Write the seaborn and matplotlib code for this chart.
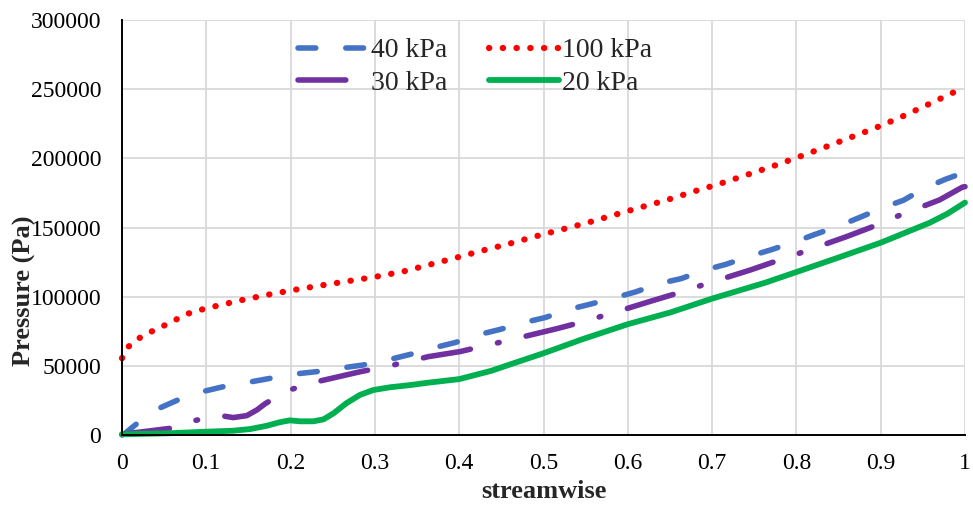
import matplotlib
matplotlib.use("Agg")
import matplotlib.pyplot as plt
import seaborn as sns
import pandas as pd
import numpy as np

# ---- data ----
x_100 = [0, 0.0075, 0.02, 0.034, 0.049, 0.064, 0.078, 0.094, 0.11, 0.141, 0.173, 0.205,
         0.237, 0.269, 0.301, 0.333, 0.364, 0.396, 0.428, 0.459, 0.490, 0.522, 0.553,
         0.584, 0.616, 0.647, 0.677, 0.709, 0.740, 0.771, 0.801, 0.832, 0.862, 0.893,
         0.923, 0.952, 0.982, 1.0]
y_100 = [55500, 63800, 69900, 74500, 78800, 83400, 87700, 90600, 93000, 97400, 101400,
         105000, 108200, 111300, 114400, 118100, 123000, 128100, 133400, 138200, 143500,
         148600, 153600, 159100, 164700, 170000, 175800, 181600, 187800, 194100, 200600,
         207600, 214600, 221800, 229500, 237700, 246400, 251500]

x_40 = [0, 0.0036, 0.019, 0.044, 0.068, 0.095, 0.12, 0.15, 0.176, 0.205, 0.231, 0.26,
        0.286, 0.315, 0.342, 0.371, 0.395, 0.425, 0.449, 0.477, 0.502, 0.531, 0.555,
        0.585, 0.609, 0.638, 0.663, 0.691, 0.716, 0.745, 0.769, 0.797, 0.822, 0.850,
        0.874, 0.902, 0.927, 0.952, 0.977, 1.0]
y_40 = [0, 1200, 8900, 19300, 25800, 31300, 34900, 38100, 41000, 44100, 45800, 48400,
        50600, 54200, 58300, 63200, 66800, 72800, 76400, 81300, 84900, 90900, 94500,
        99300, 103400, 109600, 113000, 119200, 123300, 129300, 133700, 139400, 145000,
        151000, 157000, 164200, 169700, 178400, 184900, 190000]

x_30 = [0, 0.057, 0.086, 0.115, 0.132, 0.148, 0.160, 0.170, 0.196, 0.226, 0.283, 0.313,
        0.343, 0.363, 0.401, 0.430, 0.461, 0.516, 0.546, 0.577, 0.632, 0.661, 0.691,
        0.745, 0.775, 0.805, 0.859, 0.888, 0.917, 0.970, 0.997, 1.0]
y_30 = [500, 4800, 10400, 14200, 12600, 14000, 18100, 22700, 32000, 37800, 45800, 49400,
        53550, 56600, 60300, 64400, 68800, 76900, 81700, 87300, 97600, 102900, 108900,
        119200, 125500, 131700, 143300, 150000, 157500, 170000, 179200, 179500]

x_20 = [0, 0.053, 0.0925, 0.132, 0.152, 0.172, 0.187, 0.199, 0.211, 0.227, 0.239, 0.251,
        0.266, 0.282, 0.298, 0.318, 0.342, 0.363, 0.4, 0.438, 0.473, 0.5, 0.546, 0.6,
        0.65, 0.7, 0.763, 0.8, 0.849, 0.9, 0.958, 0.979, 1.0]
y_20 = [500, 1200, 2200, 3100, 4300, 6700, 9200, 10600, 9900, 9900, 11300, 15700, 22900,
        28900, 32500, 34500, 36100, 37800, 40400, 46400, 53600, 59100, 69200, 80100,
        88500, 98600, 110100, 117800, 128100, 139000, 153400, 159900, 168000]

x_ticks = [0, 0.1, 0.2, 0.3, 0.4, 0.5, 0.6, 0.7, 0.8, 0.9, 1]
x_tick_labels = ["0", "0.1", "0.2", "0.3", "0.4", "0.5", "0.6", "0.7", "0.8", "0.9", "1"]
y_ticks = [0, 50000, 100000, 150000, 200000, 250000, 300000]

# ---- style ----
sns.set_style("white")
plt.rcParams["font.family"] = ["Liberation Serif", "DejaVu Serif"]

fig = plt.figure(figsize=(9.73, 5.08), dpi=100)
ax = fig.add_axes([122 / 973, 1 - 435 / 508, (965 - 122) / 973, (435 - 20) / 508])

series = [
    ("40 kPa", x_40, y_40, "#4472C4", (0, (3.2, 5.4)), 4.0),
    ("30 kPa", x_30, y_30, "#7030A0", (0, (8.6, 5.0, 0.3, 5.0)), 4.0),
    ("100 kPa", x_100, y_100, "#FF0000", (0, (0.05, 2.15)), 4.5),
    ("20 kPa", x_20, y_20, "#00B050", "-", 4.2),
]

for name, xs, ys, col, ls, lw in series:
    df = pd.DataFrame({"x": xs, "y": ys})
    sns.lineplot(data=df, x="x", y="y", ax=ax, color=col, linewidth=lw,
                 linestyle=ls, label=name, sort=False, estimator=None)

for ln in ax.get_lines():
    ln.set_dash_capstyle("round")
    ln.set_solid_capstyle("round")
    ln.set_solid_joinstyle("round")
    ln.set_dash_joinstyle("round")
    ln.set_clip_on(False)

ax.set_xlim(0, 1)
ax.set_ylim(0, 300000)
ax.set_xticks(x_ticks)
ax.set_xticklabels(x_tick_labels)
ax.set_yticks(y_ticks)
ax.set_yticklabels([str(v) for v in y_ticks])
ax.tick_params(axis="both", length=0, labelsize=17, colors="black")
ax.tick_params(axis="y", pad=15)
ax.tick_params(axis="x", pad=13)

ax.grid(True, color="#D9D9D9", linewidth=1.3)
ax.set_axisbelow(True)
for s in ["top", "right"]:
    ax.spines[s].set_visible(False)
for s in ["left", "bottom"]:
    ax.spines[s].set_color("black")
    ax.spines[s].set_linewidth(1.4)
    ax.spines[s].set_zorder(5)

ax.set_xlabel("streamwise", fontsize=19, fontweight="bold", labelpad=4)
ax.set_ylabel("Pressure (Pa)", fontsize=19, fontweight="bold")
ax.yaxis.set_label_coords(-0.102, 0.347)

leg = ax.legend(ncol=2, loc="upper left", bbox_to_anchor=(0.186, 1.004),
                frameon=False, fontsize=20, handlelength=2.5, handletextpad=0.12,
                columnspacing=1.5, labelspacing=0.25, borderpad=0.2)

fig.savefig("out.png", dpi=100)
